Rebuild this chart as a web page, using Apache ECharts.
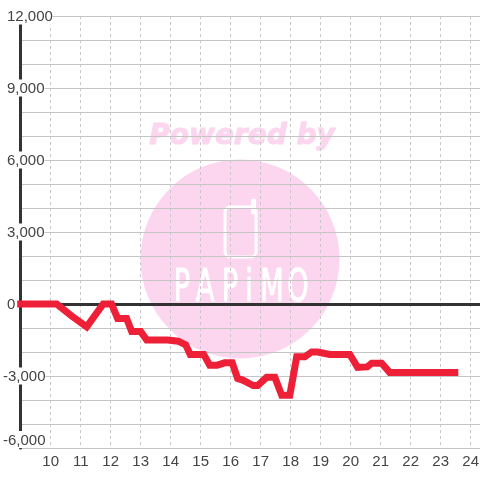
<!DOCTYPE html>
<html><head><meta charset="utf-8">
<style>html,body{margin:0;padding:0;background:#fff}#c{width:480px;height:480px}</style>
<script src="https://cdn.jsdelivr.net/npm/echarts@6/dist/echarts.min.js"></script>
</head><body><div id="c"></div>
<script>
var hours = [9,10.2,10.7,11.2,11.75,12.03,12.23,12.53,12.7,13,13.2,13.9,14.25,14.5,14.65,15.1,15.3,15.55,15.8,16.05,16.23,16.4,16.75,16.9,17.2,17.47,17.7,17.97,18.2,18.47,18.7,18.9,19.3,19.97,20.23,20.55,20.7,21.03,21.3,23.47];
var values = [0,0,-500,-950,0,0,-600,-600,-1150,-1150,-1500,-1500,-1550,-1700,-2100,-2100,-2550,-2550,-2450,-2450,-3100,-3170,-3400,-3400,-3050,-3050,-3800,-3800,-2200,-2200,-2000,-2000,-2100,-2100,-2640,-2620,-2470,-2470,-2850,-2850];
var logoLetters = ['P','A','P','i','M','O'];
var logoX = [182,205,230,249,272,298];
var font = '"Liberation Sans", Arial, sans-serif';
var logo = logoLetters.map(function(ch,i){
  return {type:'text',z:-9,silent:true,x:logoX[i],y:290,scaleX:0.62,style:{text:ch,fill:'#fff',stroke:'#fff',lineWidth:1,font:'44px "DejaVu Sans", sans-serif',textAlign:'center',textVerticalAlign:'middle'}};
});
var chart = echarts.init(document.getElementById('c'),null,{renderer:'canvas'});
chart.setOption({
  animation:false,
  backgroundColor:'#fff',
  grid:{left:20.7,top:16,right:-20.7,bottom:32,outerBoundsMode:'none'},
  graphic:{elements:[
    {type:'circle',z:-10,silent:true,shape:{cx:240,cy:259,r:99.5},style:{fill:'#fcd5ee'}},
    {type:'text',z:-10,silent:true,x:242,y:137,style:{text:'Powered by',fill:'#fcd5ee',stroke:'#fcd5ee',lineWidth:1,font:'italic bold 28px "DejaVu Sans", sans-serif',textAlign:'center',textVerticalAlign:'middle'}},
    {type:'rect',z:-9,silent:true,shape:{x:225,y:207,width:31,height:50,r:5},style:{fill:'none',stroke:'#fff',lineWidth:3}},
    {type:'line',z:-9,silent:true,shape:{x1:253.5,y1:201,x2:253.5,y2:212},style:{stroke:'#fff',lineWidth:5,lineCap:'round'}}
  ].concat(logo)},
  xAxis:[{
    type:'value',min:9,max:25,interval:1,position:'bottom',z:0,
    axisLine:{show:false,onZero:false},axisTick:{show:false},
    axisLabel:{color:'#444',fontSize:15,fontFamily:font,margin:6,showMinLabel:false},
    splitLine:{show:true,lineStyle:{color:'#c8c8c8',width:1,type:[3,3]}}
  },{
    type:'value',min:9,max:25,interval:1,position:'bottom',z:1,
    axisLine:{show:true,onZero:true,lineStyle:{color:'#333',width:3}},axisTick:{show:false},
    axisLabel:{show:false},splitLine:{show:false}
  }],
  yAxis:[{
    type:'value',min:-6000,max:12000,interval:1000,z:0,
    axisLine:{show:false},axisTick:{show:false},axisLabel:{show:false},
    splitLine:{show:true,lineStyle:{color:'#c4c4c4',width:1}}
  },{
    type:'value',min:-6000,max:12000,interval:1000,position:'left',offset:0,z:2,
    axisLine:{show:true,onZero:false,lineStyle:{color:'#333',width:3}},axisTick:{show:false},
    splitLine:{show:false},
    axisLabel:{
      align:'left',margin:17.7,verticalAlignMinLabel:'bottom',
      formatter:function(v){
        if(v%3000!==0) return '';
        var s=Math.abs(v).toString().replace(/\B(?=(\d{3})+$)/g,',');
        return v<0?'{n|-'+s+'}':'{p|'+s+'}';
      },
      rich:{
        n:{color:'#444',fontSize:15,fontFamily:font,backgroundColor:'#fff',padding:[2,0,0,0]},
        p:{color:'#444',fontSize:15,fontFamily:font,backgroundColor:'#fff',padding:[2,0,0,4]}
      }
    }
  }],
  series:[{
    type:'line',xAxisIndex:0,yAxisIndex:0,showSymbol:false,symbol:'none',z:3,clip:false,
    data:hours.map(function(h,i){return [h,values[i]];}),
    lineStyle:{color:'#ee2038',width:7,cap:'square',join:'miter'}
  }]
});
</script></body></html>
